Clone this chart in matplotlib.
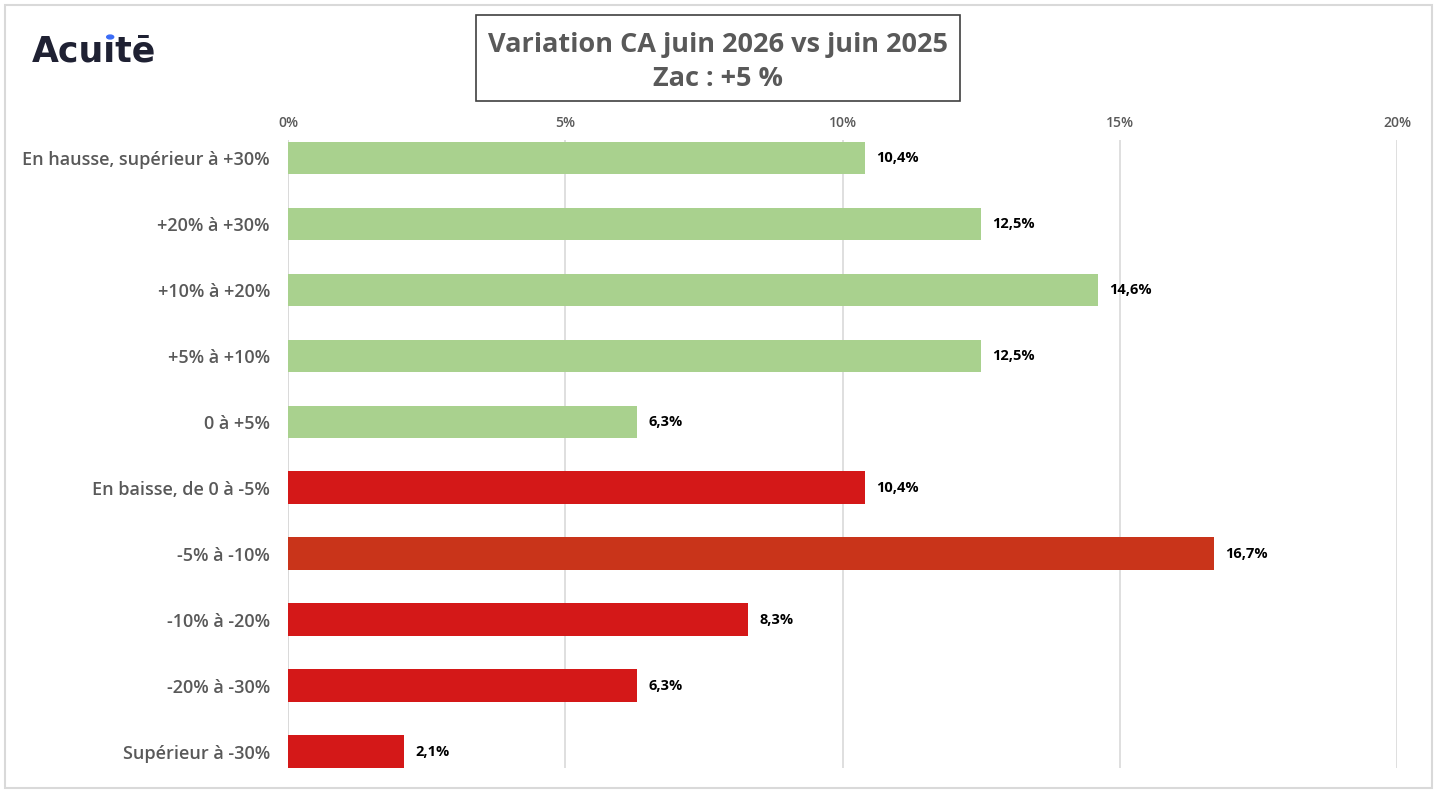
import matplotlib.pyplot as plt
from matplotlib.patches import Rectangle, Circle

categories = [
    "En hausse, supérieur à +30%",
    "+20% à +30%",
    "+10% à +20%",
    "+5% à +10%",
    "0 à +5%",
    "En baisse, de 0 à -5%",
    "-5% à -10%",
    "-10% à -20%",
    "-20% à -30%",
    "Supérieur à -30%",
]
values = [10.4, 12.5, 14.6, 12.5, 6.3, 10.4, 16.7, 8.3, 6.3, 2.1]
colors = ["#A9D18E"] * 5 + ["#D41818", "#C9341A", "#D41818", "#D41818", "#D41818"]
xticks = [0, 5, 10, 15, 20]

plt.rcParams['font.family'] = ['Open Sans', 'DejaVu Sans']

W, H = 1438, 792
fig = plt.figure(figsize=(W / 100, H / 100), dpi=100)
ax = fig.add_axes([288 / W, 1 - 768 / H, (1397 - 288) / W, (768 - 140) / H])

y = list(range(len(categories)))
ax.barh(y, values, height=0.49, color=colors, zorder=3)

for yi, v in zip(y, values):
    ax.text(v + 0.2, yi, "{:.1f}%".format(v).replace(".", ","), va="center", ha="left",
            fontsize=10.5, fontweight="bold", color="black")

ax.set_xlim(0, 20)
ax.set_ylim(9.25, -0.27)
ax.set_yticks(y)
ax.set_yticklabels(categories, fontsize=13, fontweight="semibold", color="#595959")
ax.set_xticks(xticks)
ax.set_xticklabels(["{}%".format(t) for t in xticks], fontsize=10, fontweight="semibold",
                   color="#595959")
ax.xaxis.tick_top()
ax.tick_params(axis="y", length=0, pad=13)
ax.tick_params(axis="x", length=0, pad=7)
ax.grid(axis="x", color="#D9D9D9", linewidth=1.2, zorder=0)
for s in ax.spines.values():
    s.set_visible(False)
ax.axvline(0, color="#D9D9D9", linewidth=1.2, zorder=1)

# title box
fig.patches.append(Rectangle((476 / W, 1 - 101 / H), 484 / W, 86 / H, transform=fig.transFigure,
                             facecolor="white", edgecolor="#404040", linewidth=1.2, figure=fig))
fig.text(718 / W, 1 - 62 / H, "Variation CA juin 2026 vs juin 2025\nZac : +5 %",
         ha="center", va="center", fontsize=19.5, fontweight="bold", color="#595959",
         linespacing=1.45)

# logo, dotless i with a blue dot on top
logo_font = dict(fontsize=25, fontweight="bold", family=["DejaVu Sans"], va="baseline")
logo = fig.text(32 / W, 1 - 61 / H, "Acuıtē", ha="left", color="#1F2133", **logo_font)
r = fig.canvas.get_renderer()
x0 = logo.get_window_extent(r).x0
probe = fig.text(32 / W, 1 - 61 / H, "Acu", **logo_font)
pw = probe.get_window_extent(r).width
probe_i = fig.text(32 / W, 1 - 61 / H, "Acuı", **logo_font)
piw = probe_i.get_window_extent(r).width
probe.remove()
probe_i.remove()
dot_x = (x0 + (pw + piw) / 2) / W
dot_y = 1 - 37 / H
fig.patches.append(Circle((dot_x, dot_y), 3.5 / W, transform=fig.transFigure,
                          color="#3B6CF6", figure=fig, zorder=5))

# outer frame
fig.patches.append(Rectangle((5 / W, 4 / H), 1427 / W, 783 / H, transform=fig.transFigure,
                             fill=False, edgecolor="#D9D9D9", linewidth=1.5, figure=fig))

fig.savefig("out.png", dpi=100, facecolor="white")
